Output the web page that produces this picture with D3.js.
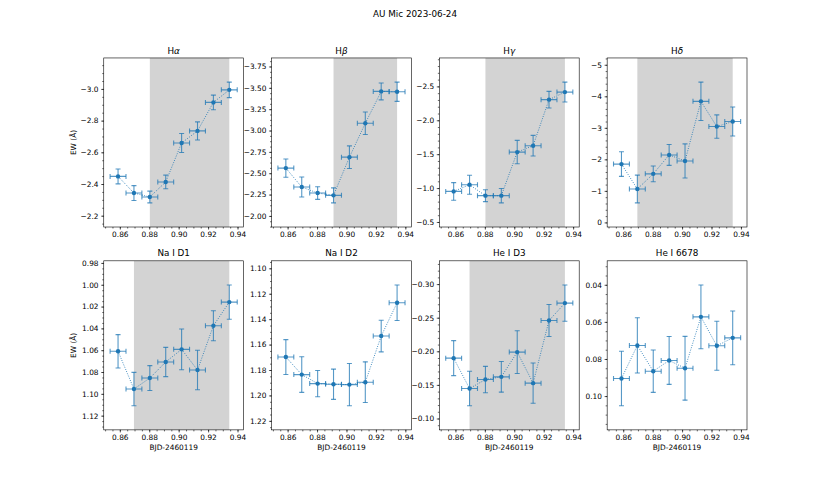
<!DOCTYPE html>
<html>
<head>
<meta charset="utf-8">
<script src="https://cdn.jsdelivr.net/npm/d3@7"></script>
<style>
body{margin:0;background:#fff;}
svg{display:block;font-family:"DejaVu Sans",sans-serif;}
</style>
</head>
<body>
<div id="chart"></div>
<script>
// time bins (BJD - 2460119) and half widths
const bjd = [0.8588, 0.8696, 0.8804, 0.8912, 0.9020, 0.9128, 0.9236, 0.9344];
const bjdErr = [0.0054, 0.0054, 0.0054, 0.0054, 0.0054, 0.0054, 0.0054, 0.0054];

// equivalent widths per line and their errors
const haEW = [-2.448, -2.343, -2.318, -2.413, -2.659, -2.735, -2.915, -2.994];
const haErr = [0.047, 0.047, 0.037, 0.043, 0.060, 0.057, 0.046, 0.049];
const hbEW = [-2.560, -2.338, -2.268, -2.241, -2.688, -3.085, -3.458, -3.454];
const hbErr = [0.107, 0.117, 0.074, 0.088, 0.132, 0.132, 0.099, 0.113];
const hgEW = [-0.951, -1.049, -0.888, -0.888, -1.531, -1.625, -2.304, -2.416];
const hgErr = [0.130, 0.140, 0.088, 0.106, 0.172, 0.152, 0.123, 0.147];
const hdEW = [-1.85, -1.06, -1.54, -2.14, -1.95, -3.84, -3.04, -3.20];
const hdErr = [0.39, 0.44, 0.25, 0.33, 0.54, 0.61, 0.37, 0.46];
const nad1EW = [1.0610, 1.0956, 1.0855, 1.0708, 1.0592, 1.0782, 1.0376, 1.0159];
const nad1Err = [0.0153, 0.0153, 0.0114, 0.0134, 0.0187, 0.0181, 0.0137, 0.0157];
const nad2EW = [1.1698, 1.1836, 1.1907, 1.1912, 1.1915, 1.1896, 1.1533, 1.1271];
const nad2Err = [0.0137, 0.0140, 0.0103, 0.0119, 0.0166, 0.0160, 0.0124, 0.0140];
const hed3EW = [-0.1898, -0.1446, -0.1580, -0.1620, -0.1988, -0.1526, -0.2458, -0.2717];
const hed3Err = [0.0260, 0.0256, 0.0196, 0.0228, 0.0318, 0.0300, 0.0238, 0.0270];
const he6678EW = [0.0905, 0.0727, 0.0866, 0.0808, 0.0850, 0.0573, 0.0729, 0.0686];
const he6678Err = [0.0147, 0.0149, 0.0114, 0.0129, 0.0172, 0.0172, 0.0132, 0.0145];

// titles: base text + italic greek part
const lineNames = ['H', 'H', 'H', 'H', 'Na I D1', 'Na I D2', 'He I D3', 'He I 6678'];
const greekParts = ['α', 'β', 'γ', 'δ', '', '', '', ''];

// flare window (start bin, end bin), null = no shading
const flareStart = [0.8804, 0.8912, 0.8804, 0.8696, 0.8696, null, 0.8696, null];
const flareEnd = [0.9344, 0.9344, 0.9344, 0.9344, 0.9344, null, 0.9344, null];

// tick labels
const xTicks = [0.86, 0.88, 0.90, 0.92, 0.94];
const haTicks = [-3.0, -2.8, -2.6, -2.4, -2.2];
const hbTicks = [-3.75, -3.50, -3.25, -3.00, -2.75, -2.50, -2.25, -2.00];
const hgTicks = [-2.5, -2.0, -1.5, -1.0, -0.5];
const hdTicks = [-5, -4, -3, -2, -1, 0];
const nad1Ticks = [0.98, 1.00, 1.02, 1.04, 1.06, 1.08, 1.10, 1.12];
const nad2Ticks = [1.10, 1.12, 1.14, 1.16, 1.18, 1.20, 1.22];
const hed3Ticks = [-0.30, -0.25, -0.20, -0.15, -0.10];
const he6678Ticks = [0.04, 0.06, 0.08, 0.10];

const panels = [
    {ew: haEW, err: haErr, ticks: haTicks, fmt: '.1f', minor: 0.05},
    {ew: hbEW, err: hbErr, ticks: hbTicks, fmt: '.2f', minor: 0.0625},
    {ew: hgEW, err: hgErr, ticks: hgTicks, fmt: '.1f', minor: 0.1},
    {ew: hdEW, err: hdErr, ticks: hdTicks, fmt: 'd', minor: 0.2},
    {ew: nad1EW, err: nad1Err, ticks: nad1Ticks, fmt: '.2f', minor: 0.005},
    {ew: nad2EW, err: nad2Err, ticks: nad2Ticks, fmt: '.2f', minor: 0.005},
    {ew: hed3EW, err: hed3Err, ticks: hed3Ticks, fmt: '.2f', minor: 0.01},
    {ew: he6678EW, err: he6678Err, ticks: he6678Ticks, fmt: '.2f', minor: 0.005}
];
panels.forEach((p, i) => {
    p.name = lineNames[i];
    p.greek = greekParts[i];
    p.shadeFrom = flareStart[i];
    p.shadeTo = flareEnd[i];
});

const width = 830, height = 483;
const figLeft = 103.75, figRight = 747, figTop = 57.96, figBottom = 429.87;
const pw = (figRight - figLeft) / 4.6;
const ph = (figBottom - figTop) / 2.2;
const blue = '#1f77b4';
const tickFont = 7.4;

const svg = d3.select('#chart').append('svg')
    .attr('width', width)
    .attr('height', height);

svg.append('text')
    .attr('x', width / 2)
    .attr('y', 17)
    .attr('text-anchor', 'middle')
    .attr('font-size', 8.8)
    .text('AU Mic 2023-06-24');

// x domain with 5% margin, y domain with 20% margin
const xLo = d3.min(bjd, (d, i) => d - bjdErr[i]);
const xHi = d3.max(bjd, (d, i) => d + bjdErr[i]);
const xPad = (xHi - xLo) * 0.05;

function minorTicks(domain, step) {
    const start = Math.ceil(domain[0] / step - 1e-6) * step;
    return d3.range(start, domain[1] + step * 1e-3, step);
}

panels.forEach((p, i) => {
    const col = i % 4, row = Math.floor(i / 4);
    const x0 = figLeft + col * pw * 1.2;
    const y0 = figTop + row * ph * 1.2;

    const x = d3.scaleLinear().domain([xLo - xPad, xHi + xPad]).range([0, pw]);
    const lo = d3.min(p.ew, (d, j) => d - p.err[j]);
    const hi = d3.max(p.ew, (d, j) => d + p.err[j]);
    const pad = (hi - lo) * 0.2;
    // inverted axis: smaller EW at top
    const y = d3.scaleLinear().domain([lo - pad, hi + pad]).range([0, ph]);

    const g = svg.append('g').attr('transform', `translate(${x0},${y0})`);

    g.append('defs').append('clipPath').attr('id', 'clip' + i)
        .append('rect').attr('width', pw).attr('height', ph);

    const plot = g.append('g').attr('clip-path', `url(#clip${i})`);

    if (p.shadeFrom !== null) {
        plot.append('rect')
            .attr('x', x(p.shadeFrom))
            .attr('y', 0)
            .attr('width', x(p.shadeTo) - x(p.shadeFrom))
            .attr('height', ph)
            .attr('fill', '#d3d3d3');
    }

    const pts = bjd.map((b, j) => ({x: b, xe: bjdErr[j], y: p.ew[j], ye: p.err[j]}));

    plot.append('path')
        .datum(pts)
        .attr('d', d3.line().x(d => x(d.x)).y(d => y(d.y)))
        .attr('fill', 'none')
        .attr('stroke', blue)
        .attr('stroke-width', 0.9)
        .attr('stroke-dasharray', '0.9,1.5');

    const cap = 2.5;
    const eb = plot.append('g')
        .attr('stroke', blue)
        .attr('stroke-width', 1.1)
        .attr('stroke-opacity', 0.75);
    pts.forEach(d => {
        const cx = x(d.x), cy = y(d.y);
        const xl = x(d.x - d.xe), xr = x(d.x + d.xe);
        const yt = y(d.y - d.ye), yb = y(d.y + d.ye);
        eb.append('line').attr('x1', xl).attr('x2', xr).attr('y1', cy).attr('y2', cy);
        eb.append('line').attr('x1', cx).attr('x2', cx).attr('y1', yt).attr('y2', yb);
        eb.append('line').attr('x1', xl).attr('x2', xl).attr('y1', cy - cap).attr('y2', cy + cap);
        eb.append('line').attr('x1', xr).attr('x2', xr).attr('y1', cy - cap).attr('y2', cy + cap);
        eb.append('line').attr('x1', cx - cap).attr('x2', cx + cap).attr('y1', yt).attr('y2', yt);
        eb.append('line').attr('x1', cx - cap).attr('x2', cx + cap).attr('y1', yb).attr('y2', yb);
    });

    plot.selectAll('circle.pt')
        .data(pts)
        .join('circle')
        .attr('class', 'pt')
        .attr('cx', d => x(d.x))
        .attr('cy', d => y(d.y))
        .attr('r', 2.2)
        .attr('fill', blue);

    // axes
    const yAxis = g.append('g')
        .call(d3.axisLeft(y).tickValues(p.ticks).tickFormat(d3.format(p.fmt)).tickSize(2.6).tickPadding(2.6));
    const yMinor = g.append('g')
        .call(d3.axisLeft(y).tickValues(minorTicks(y.domain(), p.minor)).tickFormat('').tickSize(1.5));
    const xAxis = g.append('g').attr('transform', `translate(0,${ph})`)
        .call(d3.axisBottom(x).tickValues(xTicks).tickFormat(d3.format('.2f')).tickSize(2.6).tickPadding(2.6));
    const xMinor = g.append('g').attr('transform', `translate(0,${ph})`)
        .call(d3.axisBottom(x).tickValues(minorTicks(x.domain(), 0.005)).tickFormat('').tickSize(1.5));

    [yAxis, yMinor, xAxis, xMinor].forEach(a => {
        a.select('.domain').remove();
        a.selectAll('line').attr('stroke', '#000').attr('stroke-width', 0.6);
        a.selectAll('text').attr('font-size', tickFont).attr('font-family', '"DejaVu Sans",sans-serif').attr('fill', '#000');
    });

    g.append('rect')
        .attr('width', pw)
        .attr('height', ph)
        .attr('fill', 'none')
        .attr('stroke', '#000')
        .attr('stroke-width', 0.6);

    const title = g.append('text')
        .attr('x', pw / 2)
        .attr('y', -4.4)
        .attr('text-anchor', 'middle')
        .attr('font-size', 8.8)
        .text(p.name);
    if (p.greek) {
        title.append('tspan').attr('font-style', 'italic').text(p.greek);
    }

    if (col === 0) {
        g.append('text')
            .attr('transform', `translate(${73 - x0 + 2.6},${ph / 2}) rotate(-90)`)
            .attr('text-anchor', 'middle')
            .attr('font-size', tickFont)
            .text('EW (Å)');
    }
    if (row === 1) {
        g.append('text')
            .attr('x', pw / 2)
            .attr('y', ph + 20)
            .attr('text-anchor', 'middle')
            .attr('font-size', tickFont)
            .text('BJD-2460119');
    }
});
</script>
</body>
</html>
